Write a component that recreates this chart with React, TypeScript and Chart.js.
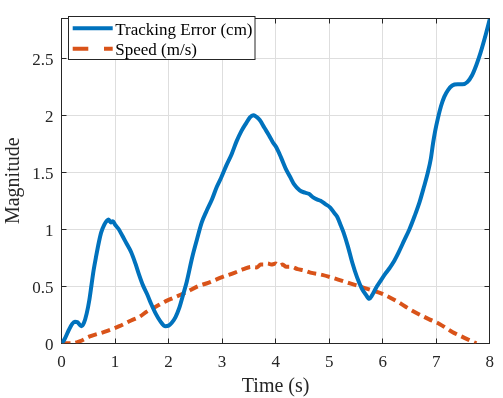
import React, { useEffect, useRef } from "react";
import { Chart, registerables } from "chart.js";

Chart.register(...registerables);

const FONT = "'Liberation Serif', 'Times New Roman', serif";
const TEXT = "#262626";

const seriesLabels = ["Tracking Error (cm)", "Speed (m/s)"];
const xTitle = "Time (s)";
const yTitle = "Magnitude";

const errT = [
  0, 0.05, 0.13, 0.2, 0.25, 0.3, 0.37, 0.42, 0.47, 0.52, 0.56, 0.6, 0.65, 0.7, 0.74, 0.8, 0.85, 0.88, 0.92, 0.96,
  1.0, 1.07, 1.14, 1.22, 1.3, 1.38, 1.45, 1.52, 1.6, 1.68, 1.76, 1.85, 1.94, 2.0, 2.06, 2.13, 2.2, 2.28, 2.34,
  2.44, 2.53, 2.62, 2.71, 2.81, 2.9, 2.99, 3.08, 3.18, 3.27, 3.36, 3.45, 3.52, 3.58, 3.63, 3.7, 3.79, 3.88,
  3.95, 4.01, 4.1, 4.19, 4.27, 4.35, 4.45, 4.55, 4.62, 4.7, 4.78, 4.84, 4.93, 5.02, 5.1, 5.15, 5.22, 5.27,
  5.35, 5.43, 5.52, 5.61, 5.68, 5.75, 5.8, 5.88, 5.95, 6.05, 6.13, 6.2, 6.3, 6.4, 6.5, 6.6, 6.69, 6.77, 6.84,
  6.9, 6.94, 6.98, 7.03, 7.09, 7.15, 7.22, 7.3, 7.4, 7.49, 7.58, 7.67, 7.75, 7.83, 7.91, 8.0,
];
const errV = [
  0, 0.03, 0.11, 0.17, 0.19, 0.185, 0.15, 0.18, 0.26, 0.38, 0.51, 0.64, 0.77, 0.89, 0.97, 1.04, 1.075, 1.085, 1.06, 1.07,
  1.04, 1.0, 0.94, 0.87, 0.8, 0.7, 0.6, 0.51, 0.43, 0.34, 0.26, 0.19, 0.15, 0.155, 0.18, 0.23, 0.31, 0.44, 0.54,
  0.75, 0.91, 1.06, 1.16, 1.26, 1.37, 1.46, 1.56, 1.66, 1.77, 1.86, 1.93, 1.98, 2.0, 1.99, 1.96, 1.89, 1.82,
  1.76, 1.72, 1.63, 1.53, 1.46, 1.39, 1.34, 1.32, 1.31, 1.28, 1.26, 1.25, 1.22, 1.19, 1.14, 1.11, 1.03, 0.97,
  0.85, 0.71, 0.58, 0.48, 0.43, 0.39, 0.42, 0.49, 0.54, 0.61, 0.66, 0.71, 0.8, 0.9, 1.0, 1.12, 1.24, 1.37, 1.49,
  1.62, 1.75, 1.86, 1.97, 2.08, 2.16, 2.22, 2.26, 2.27, 2.27, 2.29, 2.35, 2.44, 2.55, 2.68, 2.84,
];

const spdT = [
  0, 0.2, 0.35, 0.53, 0.8, 1.08, 1.3, 1.45, 1.6, 1.76, 1.95, 2.1, 2.34, 2.55, 2.74, 3.0, 3.24, 3.4, 3.55, 3.65,
  3.72, 3.79, 3.85, 3.92, 4.0, 4.07, 4.13, 4.2, 4.3, 4.41, 4.52, 4.65, 4.87, 5.09, 5.39, 5.7, 6.01, 6.26, 6.5,
  6.87, 7.06, 7.3, 7.49, 7.61, 7.75,
];
const spdV = [
  0, 0.0, 0.02, 0.06, 0.1, 0.15, 0.2, 0.23, 0.28, 0.32, 0.37, 0.4, 0.45, 0.5, 0.53, 0.58, 0.62, 0.65, 0.67, 0.665,
  0.69, 0.69, 0.7, 0.69, 0.7, 0.68, 0.69, 0.67, 0.67, 0.65, 0.64, 0.62, 0.6, 0.57, 0.525, 0.48, 0.43, 0.37, 0.3,
  0.21, 0.17, 0.1, 0.056, 0.03, 0.0,
];

const xMin = 0, xMax = 8, xStep = 1;
const yMin = 0, yMax = 2.85, yStep = 0.5;

const boxPlugin = {
  id: "matlabBox",
  beforeDatasetsDraw(chart: any) {
    const { ctx, chartArea: a } = chart;
    const L = Math.floor(a.left) + 0.5;
    const R = Math.floor(a.right) + 0.5;
    const T = Math.floor(a.top) + 0.5;
    const B = Math.floor(a.bottom) + 0.5;
    ctx.save();
    ctx.strokeStyle = TEXT;
    ctx.lineWidth = 1;
    ctx.strokeRect(L, T, R - L, B - T);
    const tl = 5;
    ctx.beginPath();
    chart.scales.x.ticks.forEach((t: any) => {
      const px = Math.floor(chart.scales.x.getPixelForValue(t.value)) + 0.5;
      ctx.moveTo(px, B);
      ctx.lineTo(px, B - tl);
      ctx.moveTo(px, T);
      ctx.lineTo(px, T + tl);
    });
    chart.scales.y.ticks.forEach((t: any) => {
      const py = Math.floor(chart.scales.y.getPixelForValue(t.value)) + 0.5;
      ctx.moveTo(L, py);
      ctx.lineTo(L + tl, py);
      ctx.moveTo(R, py);
      ctx.lineTo(R - tl, py);
    });
    ctx.stroke();
    ctx.restore();
  },
  afterDatasetsDraw(chart: any) {
    const { ctx } = chart;
    const ds = chart.data.datasets;
    ctx.save();
    ctx.fillStyle = "#ffffff";
    ctx.fillRect(68.5, 16.5, 186.5, 43);
    ctx.strokeStyle = TEXT;
    ctx.lineWidth = 1;
    ctx.strokeRect(68.5, 16.5, 186.5, 43);
    ctx.strokeStyle = ds[0].borderColor;
    ctx.lineWidth = 4;
    ctx.beginPath();
    ctx.moveTo(72.7, 28.3);
    ctx.lineTo(112.7, 28.3);
    ctx.stroke();
    ctx.strokeStyle = ds[1].borderColor;
    ctx.beginPath();
    ctx.moveTo(72.7, 48.7);
    ctx.lineTo(88.3, 48.7);
    ctx.moveTo(104, 48.7);
    ctx.lineTo(112.7, 48.7);
    ctx.stroke();
    ctx.fillStyle = "#000000";
    ctx.font = `17px ${FONT}`;
    ctx.textBaseline = "alphabetic";
    ctx.textAlign = "left";
    ctx.fillText(ds[0].label, 115.3, 35);
    ctx.fillText(ds[1].label, 115.3, 55);
    ctx.restore();
  },
};

export default function App() {
  const ref = useRef<HTMLCanvasElement | null>(null);
  useEffect(() => {
    document.body.style.margin = "0";
    const canvas = ref.current!;
    const chart = new Chart(canvas, {
      type: "line",
      data: {
        datasets: [
          {
            label: seriesLabels[0],
            data: errT.map((t, i) => ({ x: t, y: errV[i] })),
            borderColor: "#0072BD",
            borderWidth: 4,
            pointRadius: 0,
            cubicInterpolationMode: "monotone",
            fill: false,
          },
          {
            label: seriesLabels[1],
            data: spdT.map((t, i) => ({ x: t, y: spdV[i] })),
            borderColor: "#D95319",
            borderWidth: 4,
            borderDash: [9, 5],
            pointRadius: 0,
            cubicInterpolationMode: "monotone",
            fill: false,
          },
        ],
      } as any,
      options: {
        animation: false,
        responsive: false,
        devicePixelRatio: 1,
        layout: { padding: { top: 9, right: 8.5, left: 0, bottom: 0 } },
        plugins: { legend: { display: false }, tooltip: { enabled: false } },
        scales: {
          x: {
            type: "linear",
            min: xMin,
            max: xMax,
            ticks: {
              stepSize: xStep,
              color: TEXT,
              font: { family: FONT, size: 17 },
              padding: 9,
              maxRotation: 0,
              callback: (v: any) => String(Math.round(Number(v) * 10) / 10),
            },
            grid: { color: "#dedede", drawTicks: false, lineWidth: 1 },
            border: { display: false },
            title: {
              display: true,
              text: xTitle,
              color: TEXT,
              font: { family: FONT, size: 20, lineHeight: 1 },
              padding: { top: 4, bottom: 1.5 },
            },
            afterFit: (s: any) => {
              s.height = 54.7;
            },
          },
          y: {
            type: "linear",
            min: yMin,
            max: yMax,
            ticks: {
              stepSize: yStep,
              includeBounds: false,
              color: TEXT,
              font: { family: FONT, size: 17 },
              padding: 8,
              labelOffset: 2.5,
              callback: (v: any) => String(Math.round(Number(v) * 10) / 10),
            },
            grid: { color: "#dedede", drawTicks: false, lineWidth: 1 },
            border: { display: false },
            title: {
              display: true,
              text: yTitle,
              color: TEXT,
              font: { family: FONT, size: 20, lineHeight: 1 },
              padding: { top: 4, bottom: 4 },
            },
            afterFit: (s: any) => {
              s.width = 61.5;
            },
          },
        },
      } as any,
      plugins: [boxPlugin],
    });
    return () => chart.destroy();
  }, []);
  return (
    <div style={{ width: 503, height: 398 }}>
      <canvas ref={ref} width={503} height={398} style={{ display: "block" }} />
    </div>
  );
}
